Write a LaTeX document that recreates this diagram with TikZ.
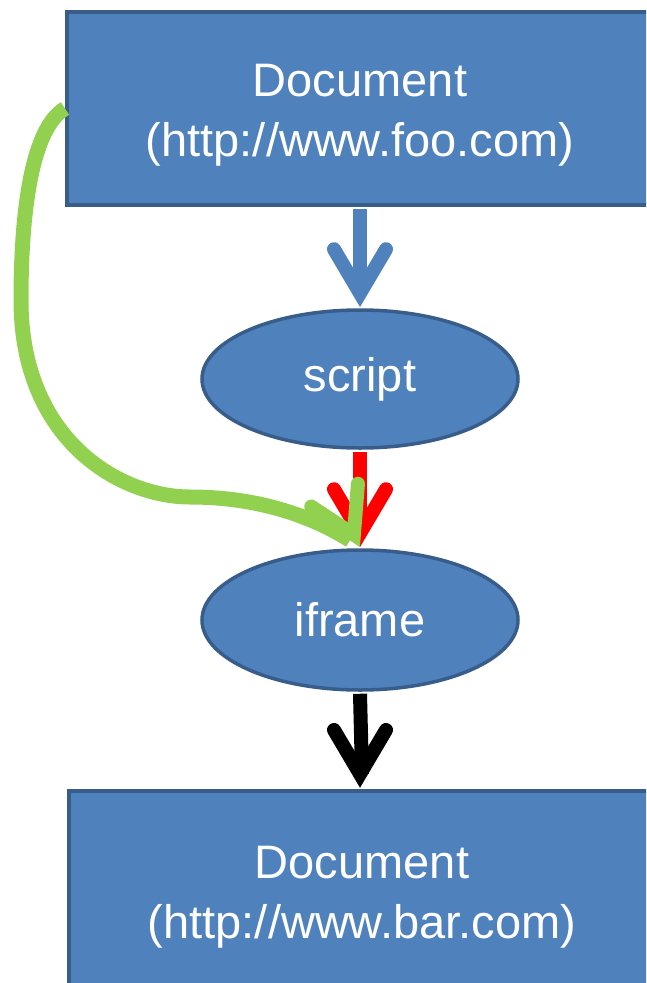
\documentclass[tikz,border=0pt]{standalone}
\usepackage{fontspec}
\setmainfont{Liberation Sans}
\usetikzlibrary{calc,shapes.geometric}
\definecolor{boxfill}{HTML}{4F81BD}
\definecolor{boxline}{HTML}{385D8A}
\definecolor{leafgreen}{HTML}{92D050}
\begin{document}
\begin{tikzpicture}[x=1pt,y=-1pt,
  docbox/.style={rectangle, draw=boxline, line width=4pt, fill=boxfill,
    text=white, align=center, font=\fontsize{47}{60}\selectfont,
    minimum width=586pt, minimum height=193pt, inner sep=0pt},
  oval/.style={ellipse, draw=boxline, line width=3.5pt, fill=boxfill,
    text=white, font=\fontsize{47}{56}\selectfont,
    minimum width=316pt, minimum height=138pt, inner sep=0pt},
  shaft/.style={line width=14pt},
  pics/openhead/.style={code={
    \draw[line width=14pt, line cap=round, line join=miter, #1]
      (-26,-58) -- (0,-14) -- (26,-58);}}
]
\useasboundingbox (0,0) rectangle (646,983);
\clip (0,0) rectangle (646,983);

% boxes and ovals
\node[docbox] (doc1) at (360,108.5) {\rule{0pt}{46pt}Document\\(http://www.foo.com)};
\node[oval] (scr) at (360,379) {script};
\node[oval, minimum height=140pt] (ifr) at (360,620) {iframe};
\node[docbox, minimum height=200pt] (doc2) at (362,891) {\rule{0pt}{44pt}Document\\(http://www.bar.com)};

% document -> script
\draw[shaft, boxfill] ($(doc1.south)+(0,2)$) -- ($(scr.north)+(0,-15)$);
\pic at ($(scr.north)+(0,-1)$) {openhead=boxfill};

% script -> iframe
\draw[shaft, red] ($(scr.south)+(0,2)$) -- ($(ifr.north)+(0,-15)$);
\pic at ($(ifr.north)+(0,-1)$) {openhead=red};

% document -> iframe (direct)
\draw[line width=15pt, leafgreen] (doc1.west)
  .. controls (32,128) and (21,210) .. (21,300)
  .. controls (21,440) and (120,497) .. (190,497)
  .. controls (250,497) and (305,512) .. ($(ifr.north)+(-10,-8)$);
\pic[rotate=26] at ($(ifr.north)+(0,-1)$) {openhead=leafgreen};

% iframe -> document
\draw[shaft, black] ($(ifr.south)+(0,2)$) -- ($(doc2.north)+(0,-15)$);
\pic at ($(doc2.north)+(-2,-1)$) {openhead=black};
\end{tikzpicture}
\end{document}
